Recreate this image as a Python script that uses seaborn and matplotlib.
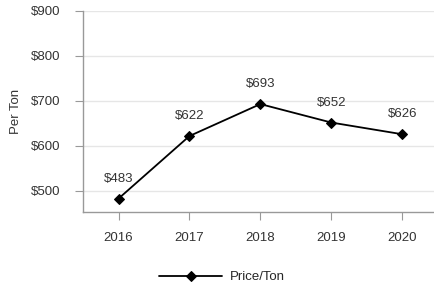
import matplotlib
matplotlib.use("Agg")
import matplotlib.pyplot as plt
import seaborn as sns
import pandas as pd

years = [2016, 2017, 2018, 2019, 2020]
price = [483, 622, 693, 652, 626]
labels = ["$483", "$622", "$693", "$652", "$626"]
yticks = [500, 600, 700, 800, 900]

sns.set_style("white")
plt.rcParams['font.family'] = ['Liberation Sans', 'DejaVu Sans']

df = pd.DataFrame({"Year": years, "Price": price})

fig = plt.figure(figsize=(4.35, 2.87), dpi=100)
ax = fig.add_axes([0.191, 0.261, 0.815, 0.701])
sns.lineplot(data=df, x="Year", y="Price", marker="D", markersize=5, color="black",
             linewidth=1.3, ax=ax, label="Price/Ton", markeredgecolor="black")

for x, y, t in zip(years, price, labels):
    ax.annotate(t, (x, y), xytext=(0, 10), textcoords="offset points",
                ha="center", va="bottom", fontsize=9.5, color="#333333")

ax.set_xlim(2015.5, 2020.5)
ax.set_ylim(453, 900)
ax.set_xticks(years)
ax.set_xticklabels([str(y) for y in years])
ax.set_yticks(yticks)
ax.set_yticklabels(["$" + str(v) for v in yticks])
ax.yaxis.grid(True, color="#e6e6e6", linewidth=1)
ax.set_xlabel("")
ax.set_ylabel("Per Ton", fontsize=9.5, color="#333333", labelpad=7)
ax.tick_params(axis="both", labelsize=9.5, labelcolor="#333333", length=6, color="#999999",
               bottom=True, left=True)
ax.tick_params(axis="y", pad=10)
ax.tick_params(axis="x", pad=8)
for s in ["top", "right"]:
    ax.spines[s].set_visible(False)
for s in ["left", "bottom"]:
    ax.spines[s].set_color("#999999")
    ax.spines[s].set_linewidth(1)

ax.legend(loc="center", bbox_to_anchor=(0.392, -0.323), frameon=False, fontsize=9.5,
          handlelength=4.8, handletextpad=0.6)

fig.savefig("out.png", dpi=100)
